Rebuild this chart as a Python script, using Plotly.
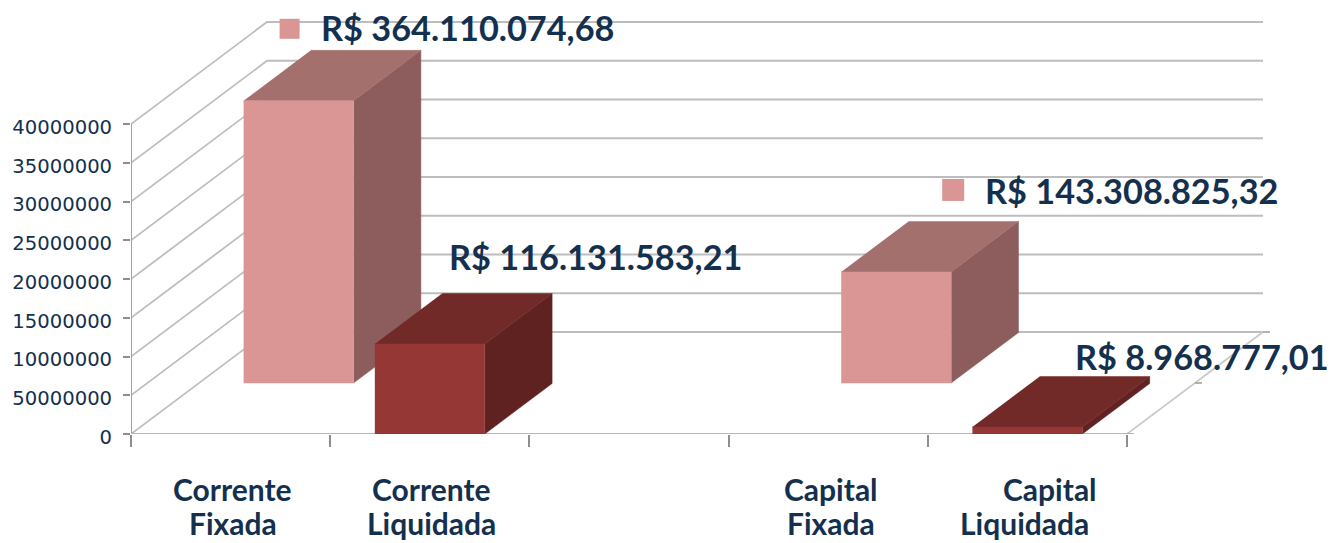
import plotly.graph_objects as go

# ---- data ----
slots = [0, 1, 3, 4]                # category slot along the x axis
series_depth = [1, 0, 1, 0]         # 1 = rear row (Fixada), 0 = front row (Liquidada)
values = [364110074.68, 116131583.21, 143308825.32, 8968777.01]
value_labels = ["R$ 364.110.074,68", "R$ 116.131.583,21", "R$ 143.308.825,32", "R$ 8.968.777,01"]
cat_line1 = ["Corrente", "Corrente", "Capital", "Capital"]
cat_line2 = ["Fixada", "Liquidada", "Fixada", "Liquidada"]
y_tickvals = [0, 50e6, 100e6, 150e6, 200e6, 250e6, 300e6, 350e6, 400e6]
y_ticktext = ["0", "50000000", "10000000", "15000000", "20000000", "25000000", "30000000", "35000000", "40000000"]
x_ticks = [0, 1, 2, 3, 4, 5]

# ---- styling ----
W, H = 1332, 543
ML, MB = 131, 109
PX_X = 199.2                        # px per slot
PX_Y = 310 / 400e6                  # px per value
DX = 136 / PX_X                     # full floor depth, in x units
DY = 102 / PX_Y                     # full floor depth, in y units
BAR_W = 0.552
NAVY = "#14304F"
GRID = "#BDBDBD"
AXIS = "#A3A3A3"
FRONT = {1: "#D99694", 0: "#953735"}
TOP = {1: "#A4706E", 0: "#722A29"}
SIDE = {1: "#8C5D5C", 0: "#602221"}


def proj(x, y, z):
    return x + z * DX, y + z * DY


fig = go.Figure()


def line(pts, color=GRID, width=1.6):
    fig.add_trace(go.Scatter(x=[p[0] for p in pts], y=[p[1] for p in pts], mode="lines",
                             line=dict(color=color, width=width), hoverinfo="skip", showlegend=False))


def face(pts, color):
    fig.add_trace(go.Scatter(x=[p[0] for p in pts], y=[p[1] for p in pts], mode="lines", fill="toself",
                             fillcolor=color, line=dict(color=color, width=0.5), hoverinfo="skip", showlegend=False))


# walls and floor
for v in y_tickvals:
    line([proj(0, v, 0), proj(0, v, 1), proj(x_ticks[-1], v, 1)], GRID, 1.8)
line([proj(x_ticks[-1], 0, 0), proj(x_ticks[-1], 0, 1)], "#C8C8C8", 1.6)
line([proj(0, 0, 0), proj(0, y_tickvals[-1], 0)], AXIS, 2)
line([proj(0, 0, 0), proj(x_ticks[-1], 0, 0)], "#B8B8B8", 2.2)
for z in (0, 0.5, 1):
    line([proj(x_ticks[-1], 0, z), proj(x_ticks[-1] + 0.035, 0, z)], "#9A9A9A", 1.5)

# bars, rear row first
order = sorted(range(len(values)), key=lambda i: -series_depth[i])
for i in order:
    d = series_depth[i] / 2
    x0 = slots[i] + 0.5 - BAR_W / 2
    x1 = x0 + BAR_W
    v = values[i]
    z0, z1 = d, d + 0.495
    face([proj(x1, 0, z0), proj(x1, 0, z1), proj(x1, v, z1), proj(x1, v, z0)], SIDE[series_depth[i]])
    face([proj(x0, v, z0), proj(x1, v, z0), proj(x1, v, z1), proj(x0, v, z1)], TOP[series_depth[i]])
    face([proj(x0, 0, z0), proj(x1, 0, z0), proj(x1, v, z0), proj(x0, v, z0)], FRONT[series_depth[i]])

# value labels, anchored on each bar's front-top centre
label_shift = [(20, 73), (17, 88), (87, 81), (46, 71)]
marker_box = {0: (-19, 1, 62, 82), 2: (46, 68, 71, 93)}
for i, txt in enumerate(value_labels):
    ax, ay = proj(slots[i] + 0.5, values[i], series_depth[i] / 2)
    fig.add_annotation(x=ax, y=ay, text=txt, showarrow=False, xanchor="left", yanchor="middle",
                       xshift=label_shift[i][0], yshift=label_shift[i][1],
                       font=dict(family="Lato", size=34.3, color=NAVY, weight="bold"))
    if i in marker_box:
        b = marker_box[i]
        fig.add_shape(type="rect", xref="x", yref="y", xsizemode="pixel", ysizemode="pixel",
                      xanchor=ax, yanchor=ay, x0=b[0], x1=b[1], y0=b[2], y1=b[3],
                      fillcolor=FRONT[1], line=dict(width=0), layer="above")

# category labels, two lines each
line1_shift = [2, 2, 3, 23]
line2_shift = [2, 2, 3, -3]
for i in range(len(slots)):
    cx = slots[i] + 0.5
    fig.add_annotation(x=cx, y=0, yref="paper", text=cat_line1[i], showarrow=False, yanchor="middle",
                       xshift=line1_shift[i], yshift=-55,
                       font=dict(family="Lato", size=30, color=NAVY, weight="bold"))
    fig.add_annotation(x=cx, y=0, yref="paper", text=cat_line2[i], showarrow=False, yanchor="middle",
                       xshift=line2_shift[i], yshift=-89,
                       font=dict(family="Lato", size=30, color=NAVY, weight="bold"))

fig.update_layout(
    width=W, height=H, margin=dict(l=ML, r=0, t=0, b=MB, autoexpand=False),
    paper_bgcolor="white", plot_bgcolor="white", showlegend=False,
    xaxis=dict(range=[0, (W - ML) / PX_X], tickvals=x_ticks, showticklabels=False, ticks="outside",
               ticklen=12, tickcolor="#8E8E8E", tickwidth=1.5, showgrid=False, zeroline=False, showline=False),
    yaxis=dict(range=[0, (H - MB) / PX_Y], tickvals=y_tickvals, ticktext=y_ticktext, ticks="outside",
               ticklen=7, tickcolor="#8E8E8E", tickwidth=1.5, showgrid=False, zeroline=False, showline=False,
               ticklabelstandoff=7, ticklabelshift=3,
               tickfont=dict(family="DejaVu Sans", size=19.6, color=NAVY)),
)

fig.write_html("out.html", post_script="document.body.style.margin='0';",
               config=dict(displayModeBar=False))
